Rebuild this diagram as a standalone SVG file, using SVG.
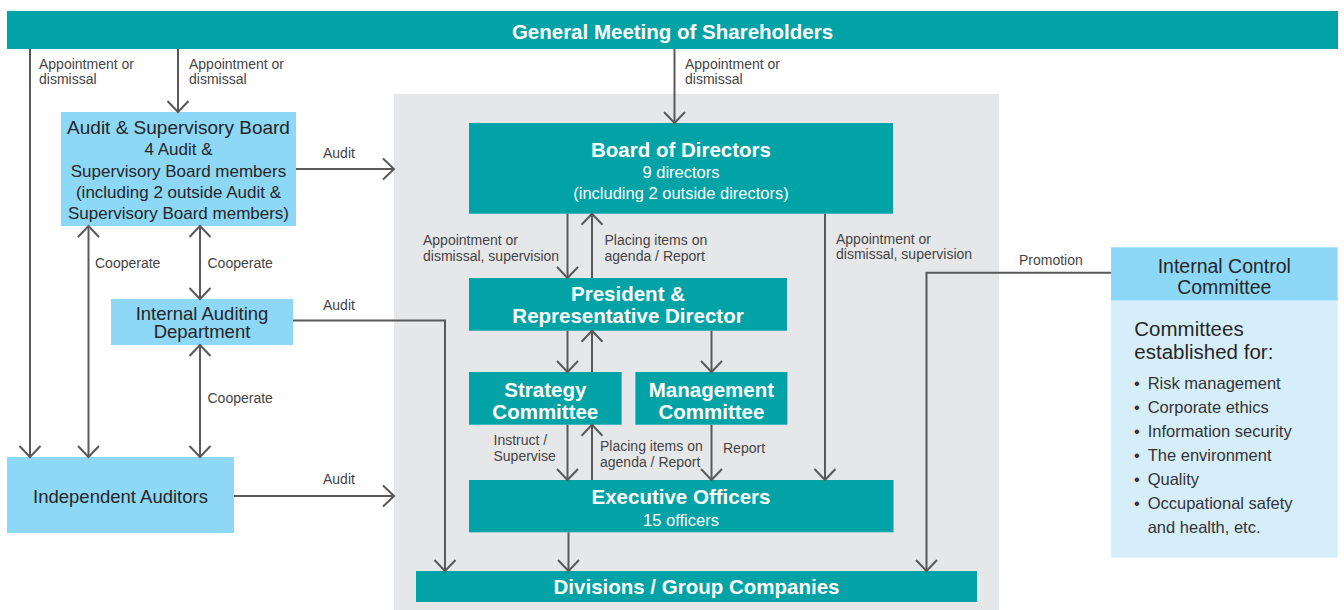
<svg xmlns="http://www.w3.org/2000/svg" width="1344" height="610" viewBox="0 0 1344 610">
<style>
.teal{fill:#02A3A6}
.lb{fill:#8DD7F7}
.body{fill:#D6EEFA}
.t{font-family:"Liberation Sans",Arial,sans-serif}
.tw{fill:#fff;text-anchor:middle}
.tb{font-weight:bold;font-size:20.5px}
.ts{font-size:16.5px}
.dk{fill:#262626;text-anchor:middle}
.lab{font-family:"Liberation Sans",Arial,sans-serif;font-size:14px;fill:#444}
.ln{fill:none;stroke:#595959;stroke-width:2}
</style>
<defs>
<marker id="arr" markerUnits="userSpaceOnUse" markerWidth="26" markerHeight="26" refX="13" refY="13" orient="auto-start-reverse" viewBox="0 0 26 26">
<path d="M2,2.5 L13,13 L2,23.5" fill="none" stroke="#595959" stroke-width="2"/>
</marker>
</defs>
<rect id="panel" x="394" y="94" width="605" height="516" fill="#E6E7E9"/>

<g id="gm">
<rect class="teal" x="7" y="11" width="1331" height="38"/>
<text class="t tw tb" x="672.5" y="39">General Meeting of Shareholders</text>
</g>

<g id="asb">
<rect class="lb" x="61" y="112" width="235" height="114"/>
<text class="t dk" font-size="19" x="178.5" y="133.5">Audit &amp; Supervisory Board</text>
<text class="t dk" font-size="17" x="178.5" y="155">4 Audit &amp;</text>
<text class="t dk" font-size="17" x="178.5" y="176.7">Supervisory Board members</text>
<text class="t dk" font-size="17" x="178.5" y="198">(including 2 outside Audit &amp;</text>
<text class="t dk" font-size="17" x="178.5" y="219">Supervisory Board members)</text>
</g>

<g id="iad">
<rect class="lb" x="111" y="299" width="182" height="46"/>
<text class="t dk" font-size="18.5" x="202" y="319.5">Internal Auditing</text>
<text class="t dk" font-size="18.5" x="202" y="338">Department</text>
</g>

<g id="ind">
<rect class="lb" x="7" y="457" width="227" height="76"/>
<text class="t dk" font-size="18.5" x="120.5" y="503">Independent Auditors</text>
</g>

<g id="board">
<rect class="teal" x="469" y="123" width="424" height="90.7"/>
<text class="t tw tb" x="681" y="157">Board of Directors</text>
<text class="t tw ts" x="681" y="177.5">9 directors</text>
<text class="t tw ts" x="681" y="198.5">(including 2 outside directors)</text>
</g>

<g id="president">
<rect class="teal" x="469" y="278" width="318" height="52.7"/>
<text class="t tw tb" x="628" y="300.7">President &amp;</text>
<text class="t tw tb" x="628" y="322.5">Representative Director</text>
</g>

<g id="strategy">
<rect class="teal" x="469" y="372" width="152.6" height="52.7"/>
<text class="t tw tb" x="545.3" y="396.7">Strategy</text>
<text class="t tw tb" x="545.3" y="418.5">Committee</text>
</g>

<g id="management">
<rect class="teal" x="635.4" y="372" width="152" height="52.7"/>
<text class="t tw tb" x="711.4" y="396.7">Management</text>
<text class="t tw tb" x="711.4" y="418.5">Committee</text>
</g>

<g id="executive">
<rect class="teal" x="469" y="480" width="424.5" height="52.3"/>
<text class="t tw tb" x="681" y="504.3">Executive Officers</text>
<text class="t tw ts" x="681" y="525.7">15 officers</text>
</g>

<g id="divisions">
<rect class="teal" x="416" y="571" width="561" height="31"/>
<text class="t tw tb" x="696.5" y="594.3">Divisions / Group Companies</text>
</g>

<g id="icc">
<rect class="lb" x="1111" y="247.3" width="226.7" height="53.4"/>
<rect class="body" x="1111" y="300.7" width="226.7" height="257"/>
<text class="t dk" font-size="19.5" x="1224.3" y="272.5">Internal Control</text>
<text class="t dk" font-size="19.5" x="1224.3" y="294.3">Committee</text>
<text class="t" fill="#262626" font-size="20.5" x="1134.3" y="335.5">Committees</text>
<text class="t" fill="#262626" font-size="20.5" x="1134.3" y="358.5">established for:</text>
<g class="t" fill="#333" font-size="16.5">
<text x="1134" y="389.3">•</text><text x="1147.7" y="389.3">Risk management</text>
<text x="1134" y="413.3">•</text><text x="1147.7" y="413.3">Corporate ethics</text>
<text x="1134" y="437.3">•</text><text x="1147.7" y="437.3">Information security</text>
<text x="1134" y="461.3">•</text><text x="1147.7" y="461.3">The environment</text>
<text x="1134" y="485.3">•</text><text x="1147.7" y="485.3">Quality</text>
<text x="1134" y="509.3">•</text><text x="1147.7" y="509.3">Occupational safety</text>
<text x="1147.7" y="533.3">and health, etc.</text>
</g>
</g>

<g id="connectors">
<path class="ln" d="M30,49 V457" marker-end="url(#arr)"/>
<path class="ln" d="M178,49 V112" marker-end="url(#arr)"/>
<path class="ln" d="M674.5,49 V123" marker-end="url(#arr)"/>
<path class="ln" d="M296,169 H394" marker-end="url(#arr)"/>
<path class="ln" d="M88.5,226 V457" marker-start="url(#arr)" marker-end="url(#arr)"/>
<path class="ln" d="M200,226 V299" marker-start="url(#arr)" marker-end="url(#arr)"/>
<path class="ln" d="M200,345 V457" marker-start="url(#arr)" marker-end="url(#arr)"/>
<path class="ln" d="M293,320.5 H445 V571" marker-end="url(#arr)"/>
<path class="ln" d="M234,496 H394" marker-end="url(#arr)"/>
<path class="ln" d="M567.5,213.7 V278" marker-end="url(#arr)"/>
<path class="ln" d="M592,278 V213.7" marker-end="url(#arr)"/>
<path class="ln" d="M825,213.7 V480" marker-end="url(#arr)"/>
<path class="ln" d="M567.5,330.7 V372" marker-end="url(#arr)"/>
<path class="ln" d="M592,372 V330.7" marker-end="url(#arr)"/>
<path class="ln" d="M711.5,330.7 V372" marker-end="url(#arr)"/>
<path class="ln" d="M567.5,424.7 V480" marker-end="url(#arr)"/>
<path class="ln" d="M592,480 V424.7" marker-end="url(#arr)"/>
<path class="ln" d="M711.5,424.7 V480" marker-end="url(#arr)"/>
<path class="ln" d="M568.5,532.3 V571" marker-end="url(#arr)"/>
<path class="ln" d="M1111,272.7 H926.5 V571" marker-end="url(#arr)"/>
</g>

<g id="labels">
<text class="lab" x="39" y="68.5">Appointment or</text>
<text class="lab" x="39" y="84">dismissal</text>
<text class="lab" x="189" y="68.5">Appointment or</text>
<text class="lab" x="189" y="84">dismissal</text>
<text class="lab" x="685" y="68.5">Appointment or</text>
<text class="lab" x="685" y="84">dismissal</text>
<text class="lab" x="323" y="158">Audit</text>
<text class="lab" x="323" y="309.5">Audit</text>
<text class="lab" x="323" y="483.5">Audit</text>
<text class="lab" x="95" y="267.7">Cooperate</text>
<text class="lab" x="207.5" y="267.7">Cooperate</text>
<text class="lab" x="207.5" y="402.7">Cooperate</text>
<text class="lab" x="423" y="245">Appointment or</text>
<text class="lab" x="423" y="260.7">dismissal, supervision</text>
<text class="lab" x="604.5" y="245">Placing items on</text>
<text class="lab" x="604.5" y="260.7">agenda / Report</text>
<text class="lab" x="836" y="243.5">Appointment or</text>
<text class="lab" x="836" y="259.3">dismissal, supervision</text>
<text class="lab" x="1019" y="264.5">Promotion</text>
<text class="lab" x="493.5" y="445">Instruct /</text>
<text class="lab" x="493.5" y="461">Supervise</text>
<text class="lab" x="600" y="450.7">Placing items on</text>
<text class="lab" x="600" y="466.7">agenda / Report</text>
<text class="lab" x="723" y="453.3">Report</text>
</g>
</svg>
